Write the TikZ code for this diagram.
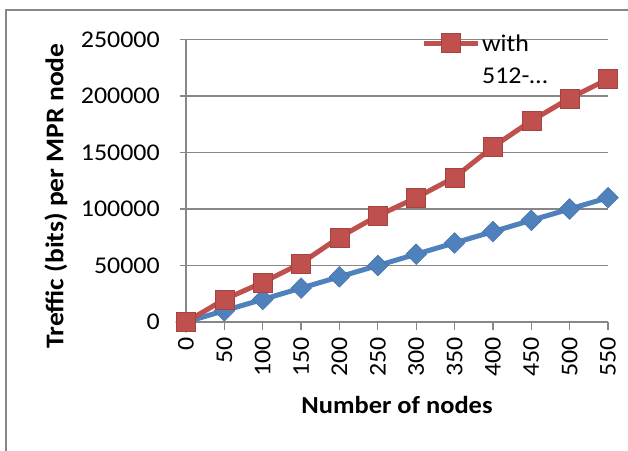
\documentclass[tikz,border=0pt]{standalone}
\usepackage{fontspec}
\setmainfont{Carlito}[FakeStretch=1.08]
\usetikzlibrary{shapes.geometric}
\definecolor{redS}{HTML}{C0504D}
\definecolor{blueS}{HTML}{4F81BD}
\definecolor{gridc}{HTML}{878787}
\begin{document}
\begin{tikzpicture}[x=1pt,y=-1pt,
  gridline/.style={gridc, line width=1.3pt},
  redline/.style={redS, line width=5pt, line join=round},
  blueline/.style={blueS, line width=5pt, line join=round},
  sqmark/.style={rectangle, fill=redS, draw=redS!85!black, line width=0.4pt, minimum size=19pt, inner sep=0pt},
  dmmark/.style={diamond, fill=blueS, draw=blueS!85!black, line width=0.4pt, minimum size=21pt, inner sep=0pt},
  lbl/.style={font=\fontsize{24}{28}\selectfont, inner sep=0pt},
  ttl/.style={font=\fontsize{24.5}{28}\selectfont\bfseries, inner sep=0pt}]
\useasboundingbox (0,0) rectangle (628,450);
\draw[gridline] (6,452) -- (6,10) -- (630,10);
\begin{scope}[shift={(186,322)}, x=0.76727pt, y=1.13pt]
  \foreach \v in {50,100,...,250} \draw[gridline] (-8,\v) -- (550,\v);
  \draw[gridline] (-8,0) -- (550,0);
  \draw[gridline] (0,0) -- (0,250);
  \foreach \x in {0,50,...,550} {
    \draw[gridline] (\x,0) -- (\x,-7);
    \node[lbl, rotate=90, anchor=east] (xl\x) at (\x,-13.5) {\x};
  }
  \foreach \v/\t in {0/0,50/50000,100/100000,150/150000,200/200000,250/250000}
    \node[lbl, anchor=east] (yl\v) at (-34,\v) {\t};
  \foreach \i/\r/\b in {0/0/0,1/20/10,2/35/20,3/52/30,4/75/40,5/94/50,6/110/60,7/128/70,8/155/80,9/178/90,10/198/100,11/215/110} {
    \coordinate (r\i) at (\i*50,\r);
    \coordinate (b\i) at (\i*50,\b);
  }
  \draw[blueline] (b0) -- (b1) -- (b2) -- (b3) -- (b4) -- (b5) -- (b6) -- (b7) -- (b8) -- (b9) -- (b10) -- (b11);
  \foreach \i in {0,...,11} \node[dmmark] (bm\i) at (b\i) {};
  \draw[redline] (r0) -- (r1) -- (r2) -- (r3) -- (r4) -- (r5) -- (r6) -- (r7) -- (r8) -- (r9) -- (r10) -- (r11);
  \foreach \i in {0,...,11} \node[sqmark] (rm\i) at (r\i) {};
\end{scope}
\coordinate (la) at (424,43);
\coordinate (lb) at (478,43);
\draw[redline] (la) -- (lb);
\node[sqmark] (lm) at (451,43) {};
\node[lbl, anchor=west] (lt1) at (482,43) {with};
\node[lbl, anchor=west] (lt2) at (482,76) {512-…};
\node[ttl, font=\fontsize{25.5}{28}\selectfont\bfseries, rotate=90] (ytitle) at (56,196) {Treffic (bits) per MPR node};
\node[ttl] (xtitle) at (397,405) {Number of nodes};
\end{tikzpicture}
\end{document}
